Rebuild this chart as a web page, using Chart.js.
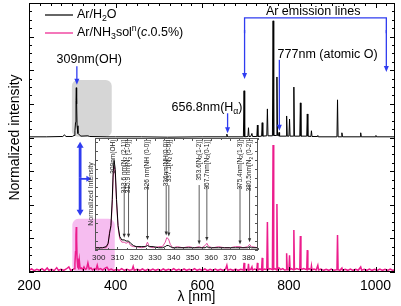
<!DOCTYPE html>
<html>
<head>
<meta charset="utf-8">
<script src="https://cdn.jsdelivr.net/npm/chart.js@4.4.0/dist/chart.umd.min.js"></script>
<style>
  html, body { margin: 0; padding: 0; background: #fff; }
  #wrap { position: relative; width: 401px; height: 306px; }
  #main { position: absolute; left: 0; top: 0; }
  #inset { position: absolute; left: 80px; top: 134px; }
</style>
</head>
<body>
<div id="wrap">
  <canvas id="main" width="401" height="306"></canvas>
  <canvas id="inset" width="182" height="134"></canvas>
</div>
<script>
// ---- data ----
const seriesNames = ["Ar/H\u2082O", "Ar/NH\u2083sol\u207F(c.0.5%)"];

// Ar/H2O spectrum (heights above its own baseline)
const topWl = [200, 240, 278, 282, 285, 300, 304, 306, 307.5, 308.5, 309.2, 310, 311, 313, 316, 320, 336, 340, 380, 400, 460, 520, 600,
  655, 656.8, 658.5, 695, 696.5, 698, 705.5, 706.7, 708, 712, 714.7, 716, 726, 727.3, 728.5, 737, 738.4, 739.8,
  749, 750.4, 751.8, 762, 763.5, 765, 771, 772.4, 773.8, 776, 777.2, 778.5, 793.5, 794.8, 796.2, 800.2, 801.5, 802.8,
  810.2, 811.5, 812.8, 825.2, 826.5, 827.8, 841.2, 842.5, 843.8, 850.8, 852.1, 853.4, 866, 866.8, 868,
  911, 912.3, 913.6, 921, 922.4, 923.8, 964.5, 965.8, 967, 1000, 1001, 1002, 1045];
const topVal = [0.02, 0.02, 0.03, 0.08, 0.03, 0.03, 0.06, 0.2, 0.45, 1.1, 1.48, 1.0, 0.35, 0.12, 0.08, 0.04, 0.05, 0.03, 0.02, 0.02, 0.02, 0.01, 0.02,
  0.02, 0.1, 0.02, 0.02, 1.39, 0.02, 0.03, 0.29, 0.03, 0.03, 0.12, 0.03, 0.03, 0.37, 0.03, 0.04, 0.44, 0.04,
  0.05, 0.85, 0.05, 0.05, 3.47, 0.06, 0.06, 1.8, 0.06, 0.05, 0.15, 0.04, 0.04, 0.64, 0.04, 0.04, 0.55, 0.04,
  0.04, 1.5, 0.04, 0.04, 1.03, 0.04, 0.04, 0.7, 0.04, 0.03, 0.2, 0.03, 0.03, 0.06, 0.02,
  0.02, 1.12, 0.02, 0.02, 0.14, 0.02, 0.02, 0.14, 0.02, 0.02, 0.06, 0.02, 0.02];

// Ar/NH3 spectrum
const botWl = [200, 206, 212, 218, 224, 230, 236, 242, 246, 252, 258, 264, 268, 274, 280, 286, 292, 296, 301, 304,
  306, 307.5, 308.5, 309.2, 310, 311, 312.5, 314, 316, 318, 321, 324, 327, 330, 333, 336, 339, 343, 347, 351, 355,
  357.5, 360, 365, 370, 375, 380, 384, 390, 396, 402, 408, 414, 420, 426, 432, 438, 440.5, 443, 450, 456, 462, 468,
  474, 480, 486, 492, 498, 504, 510, 516, 522, 528, 534, 540, 546, 552, 558, 564, 570, 576, 582, 588, 594, 600, 606,
  612, 618, 624, 630, 636, 642, 648, 654, 656.8, 659, 665, 671, 677, 683, 689, 695, 696.5, 698, 702, 705.5, 706.7,
  708, 712, 714.7, 716, 721, 726, 727.3, 728.5, 733, 737, 738.4, 739.8, 744, 749, 750.4, 751.8, 756, 762, 763.5,
  765, 768, 771, 772.4, 773.8, 777.2, 781, 786, 790, 793.5, 794.8, 796.2, 800.2, 801.5, 802.8, 806, 810.2, 811.5,
  812.8, 818, 825.2, 826.5, 827.8, 834, 841.2, 842.5, 843.8, 847, 850.8, 852.1, 853.4, 858, 863, 866.8, 868.5, 874,
  880, 886, 892, 898, 904, 911, 912.3, 913.6, 918, 922.4, 924, 930, 936, 942, 948, 954, 960, 965.8, 968, 974, 980,
  986, 992, 998, 1004, 1010, 1016, 1022, 1028, 1034, 1040, 1045];
const botVal = [0.05, 0.09, 0.04, 0.08, 0.05, 0.1, 0.04, 0.12, 0.05, 0.08, 0.04, 0.13, 0.05, 0.08, 0.05, 0.09, 0.15, 0.05, 0.07, 0.1,
  0.25, 0.6, 1.1, 1.34, 0.95, 0.4, 0.15, 0.12, 0.36, 0.1, 0.12, 0.07, 0.15, 0.08, 0.1, 0.27, 0.09, 0.12, 0.06, 0.1, 0.08,
  0.2, 0.07, 0.1, 0.06, 0.11, 0.14, 0.06, 0.09, 0.05, 0.08, 0.05, 0.1, 0.05, 0.08, 0.05, 0.07, 0.17, 0.05, 0.08, 0.05, 0.09, 0.04,
  0.08, 0.05, 0.09, 0.05, 0.08, 0.04, 0.09, 0.05, 0.08, 0.05, 0.1, 0.05, 0.08, 0.04, 0.09, 0.05, 0.08, 0.05, 0.1, 0.05, 0.08, 0.05, 0.09,
  0.04, 0.08, 0.05, 0.09, 0.05, 0.08, 0.05, 0.09, 0.2, 0.05, 0.08, 0.05, 0.09, 0.05, 0.08, 0.06, 0.27, 0.06, 0.08, 0.06, 0.24,
  0.06, 0.08, 0.15, 0.06, 0.09, 0.06, 0.27, 0.06, 0.09, 0.06, 0.42, 0.06, 0.09, 0.07, 1.49, 0.07, 0.1, 0.07, 3.78,
  0.08, 0.1, 0.07, 2.02, 0.07, 0.12, 0.07, 0.1, 0.06, 0.07, 0.56, 0.07, 0.07, 0.5, 0.07, 0.1, 0.07, 1.25,
  0.07, 0.1, 0.07, 1.07, 0.07, 0.1, 0.07, 0.65, 0.07, 0.1, 0.06, 0.18, 0.06, 0.09, 0.06, 0.2, 0.06, 0.09,
  0.05, 0.08, 0.05, 0.09, 0.05, 0.07, 1.1, 0.07, 0.05, 0.12, 0.05, 0.08, 0.05, 0.09, 0.05, 0.08, 0.05, 0.15, 0.05, 0.08, 0.05,
  0.09, 0.05, 0.08, 0.05, 0.09, 0.05, 0.08, 0.05, 0.09, 0.05, 0.07];

// inset: 300-385 nm zoom, normalized
const insetWl = [298, 302, 304, 305, 305.8, 306.5, 307.2, 307.7, 308.2, 308.8, 309.5, 310.3, 311.2, 312.3, 313.6, 314.6, 315.9, 317, 318.5,
  320, 323, 325, 326, 327, 329, 332, 334, 335.5, 336.3, 337.2, 338.2, 339.5, 342, 345, 348, 351, 353.6, 355, 356.8,
  357.7, 358.7, 361, 364, 367, 370, 373, 375.4, 377, 379.5, 380.5, 381.5, 385];
const insetH2O = [0.02, 0.02, 0.03, 0.06, 0.15, 0.22, 0.45, 0.7, 0.8, 0.72, 0.45, 0.22, 0.12, 0.09, 0.09, 0.08, 0.08, 0.06, 0.04,
  0.03, 0.03, 0.03, 0.04, 0.03, 0.03, 0.02, 0.02, 0.03, 0.04, 0.04, 0.03, 0.02, 0.02, 0.02, 0.02, 0.02, 0.02, 0.02, 0.02,
  0.03, 0.02, 0.02, 0.02, 0.02, 0.02, 0.02, 0.02, 0.02, 0.02, 0.03, 0.02, 0.02];
const insetNH3 = [0.02, 0.02, 0.02, 0.05, 0.17, 0.2, 0.4, 0.65, 0.75, 0.68, 0.42, 0.2, 0.1, 0.07, 0.07, 0.06, 0.07, 0.04, 0.03,
  0.03, 0.02, 0.03, 0.07, 0.03, 0.02, 0.03, 0.03, 0.07, 0.11, 0.1, 0.05, 0.02, 0.03, 0.02, 0.03, 0.02, 0.03, 0.02, 0.04,
  0.06, 0.03, 0.02, 0.03, 0.02, 0.02, 0.03, 0.03, 0.02, 0.03, 0.05, 0.03, 0.02];

const mainXTicks = [200, 400, 600, 800, 1000];
const insetXTicks = [300, 310, 320, 330, 340, 350, 360, 370, 380];

const TOP_OFFSET = 4; // stacking offset of the Ar/H2O trace
const BLUE = "#2f3cf0";
const PINK = "#ec1c8c";
const FAM = "'Liberation Sans', Arial, sans-serif";
const NARROW = "'Liberation Sans Narrow', 'Liberation Sans', Arial, sans-serif";

Chart.defaults.font.family = FAM;
Chart.defaults.color = "#000";

// ---- drawing helpers ----
function rich(ctx, x, y, parts, size, align, fam) {
  fam = fam || FAM;
  const fontFor = (k) => (k === "i" ? "italic " : "") + (k === "sub" || k === "sup" ? size * 0.7 : size) + "px " + fam;
  let w = 0;
  parts.forEach(([t, k]) => { ctx.font = fontFor(k); w += ctx.measureText(t).width; });
  let cx = align === "right" ? x - w : align === "center" ? x - w / 2 : x;
  ctx.textAlign = "left";
  ctx.textBaseline = "middle";
  parts.forEach(([t, k]) => {
    ctx.font = fontFor(k);
    const dy = k === "sub" ? size * 0.3 : k === "sup" ? -size * 0.35 : 0;
    ctx.fillText(t, cx, y + dy);
    cx += ctx.measureText(t).width;
  });
}

function arrow(ctx, x1, y1, x2, y2, w, hl, hw) {
  const a = Math.atan2(y2 - y1, x2 - x1);
  const c = Math.cos(a), s = Math.sin(a);
  ctx.lineWidth = w;
  ctx.beginPath();
  ctx.moveTo(x1, y1);
  ctx.lineTo(x2 - c * hl * 0.7, y2 - s * hl * 0.7);
  ctx.stroke();
  ctx.beginPath();
  ctx.moveTo(x2, y2);
  ctx.lineTo(x2 - hl * c + hw * s, y2 - hl * s - hw * c);
  ctx.lineTo(x2 - hl * c - hw * s, y2 - hl * s + hw * c);
  ctx.closePath();
  ctx.fill();
}

function roundRect(ctx, x, y, w, h, r) {
  ctx.beginPath();
  ctx.moveTo(x + r, y);
  ctx.arcTo(x + w, y, x + w, y + h, r);
  ctx.arcTo(x + w, y + h, x, y + h, r);
  ctx.arcTo(x, y + h, x, y, r);
  ctx.arcTo(x, y, x + w, y, r);
  ctx.closePath();
}

// box frame with inward ticks on all four sides
function frameTicks(o) {
  return {
    id: "frame",
    afterDraw(chart) {
      const { ctx, chartArea: a, scales: { x, y } } = chart;
      ctx.save();
      ctx.strokeStyle = o.color;
      ctx.lineWidth = 1;
      ctx.strokeRect(a.left + 0.5, a.top + 0.5, a.right - a.left - 1, a.bottom - a.top - 1);
      ctx.beginPath();
      for (let i = 0; ; i++) {
        const v = o.x0 + i * o.xMinor;
        if (v > x.max) break;
        const px = Math.round(x.getPixelForValue(v)) + 0.5;
        const len = i % o.xEvery === 0 ? o.major : o.minor;
        ctx.moveTo(px, a.bottom); ctx.lineTo(px, a.bottom - len);
        ctx.moveTo(px, a.top); ctx.lineTo(px, a.top + len);
      }
      for (let i = 0; ; i++) {
        const v = y.min + i * o.yMinor;
        if (v > y.max + 1e-9) break;
        const py = Math.round(y.getPixelForValue(v)) + 0.5;
        const len = i % o.yEvery === 0 ? o.major : o.minor;
        ctx.moveTo(a.left, py); ctx.lineTo(a.left + len, py);
        ctx.moveTo(a.right, py); ctx.lineTo(a.right - len, py);
      }
      ctx.stroke();
      ctx.restore();
    }
  };
}

// ---- main chart annotations ----
const mainNotes = {
  id: "mainNotes",
  beforeDatasetsDraw(chart) {
    const { ctx, scales: { x, y } } = chart;
    ctx.save();
    // shaded boxes round the OH band
    ctx.fillStyle = "#d6d6d6";
    roundRect(ctx, x.getPixelForValue(299), y.getPixelForValue(5.71),
      x.getPixelForValue(391) - x.getPixelForValue(299), y.getPixelForValue(4.02) - y.getPixelForValue(5.71), 6);
    ctx.fill();
    ctx.fillStyle = "#f6bdf0";
    roundRect(ctx, x.getPixelForValue(300), y.getPixelForValue(1.58),
      x.getPixelForValue(398) - x.getPixelForValue(300), y.getPixelForValue(0) - y.getPixelForValue(1.58), 6);
    ctx.fill();
    ctx.restore();
  },
  afterDatasetsDraw(chart) {
    const { ctx, chartArea: a, scales: { x, y } } = chart;
    const X = (v) => x.getPixelForValue(v), Y = (v) => y.getPixelForValue(v);
    ctx.save();
    ctx.strokeStyle = BLUE;
    ctx.fillStyle = BLUE;

    // 309 nm OH
    arrow(ctx, X(310.5), Y(6.12), X(310.5), Y(5.57), 1.3, 6, 2.5);
    // 656.8 nm H alpha
    arrow(ctx, X(658.5), Y(4.72), X(658.5), Y(4.13), 1.3, 6, 2.5);
    // 777 nm O
    arrow(ctx, X(778), Y(6.31), X(778), Y(4.2), 1.3, 6, 2.5);

    // Ar emission lines bracket
    ctx.lineWidth = 1.3;
    ctx.beginPath();
    ctx.moveTo(X(697.7), Y(7.1));
    ctx.lineTo(X(697.7), Y(7.56));
    ctx.lineTo(X(1025), Y(7.56));
    ctx.lineTo(X(1025), Y(7.1));
    ctx.stroke();
    arrow(ctx, X(697.7), Y(7.2), X(697.7), Y(5.74), 1.3, 6, 2.5);
    arrow(ctx, X(1025), Y(7.2), X(1025), Y(5.95), 1.3, 6, 2.5);

    // link from the two OH bands to the inset
    arrow(ctx, X(318), Y(2.8), X(318), Y(3.87), 2.8, 6, 3.5);
    arrow(ctx, X(318), Y(2.8), X(318), Y(1.67), 2.8, 6, 3.5);
    arrow(ctx, X(318), Y(2.77), X(344), Y(2.77), 1.8, 5, 3);

    // labels
    ctx.fillStyle = "#000";
    rich(ctx, X(339), Y(6.31), [["309nm(OH)", ""]], 12.5, "center");
    rich(ctx, X(693), Y(4.88), [["656.8nm(H", ""], ["\u03B1", "sub"], [")", ""]], 12.5, "right");
    rich(ctx, X(774), Y(6.47), [["777nm (atomic O)", ""]], 12.5, "left");
    rich(ctx, X(856), Y(7.74), [["Ar emission lines", ""]], 12.5, "center");

    // legend
    const ds = chart.data.datasets;
    const rows = [
      [["Ar/H", ""], ["2", "sub"], ["O", ""]],
      [["Ar/NH", ""], ["3", "sub"], ["sol", ""], ["n", "sup"], ["(", ""], ["c", "i"], [".0.5%)", ""]]
    ];
    [1, 0].forEach((di, r) => {
      const yy = a.top + 12 + r * 18;
      ctx.strokeStyle = ds[di].borderColor;
      ctx.lineWidth = 1.2;
      ctx.beginPath();
      ctx.moveTo(a.left + 16, yy);
      ctx.lineTo(a.left + 44, yy);
      ctx.stroke();
      ctx.fillStyle = "#000";
      rich(ctx, a.left + 48, yy, rows[r], 12.5, "left");
    });
    ctx.restore();
  }
};

const toPts = (xs, ys, off) => xs.map((w, i) => ({ x: w, y: ys[i] + off }));

new Chart(document.getElementById("main"), {
  type: "line",
  data: {
    datasets: [
      { label: seriesNames[1], data: toPts(botWl, botVal, 0), borderColor: PINK, borderWidth: 1.5 },
      { label: seriesNames[0], data: toPts(topWl, topVal, TOP_OFFSET), borderColor: "#000", borderWidth: 1 }
    ]
  },
  options: {
    responsive: false,
    devicePixelRatio: 1,
    animation: false,
    parsing: false,
    elements: { point: { radius: 0 }, line: { tension: 0 } },
    layout: { padding: { left: 0, top: 3, right: 6, bottom: 0 } },
    plugins: { legend: { display: false }, tooltip: { enabled: false } },
    scales: {
      x: {
        type: "linear", min: 200, max: 1045,
        grid: { display: false, drawTicks: false },
        border: { display: false },
        afterBuildTicks: (s) => { s.ticks = mainXTicks.map((v) => ({ value: v })); },
        afterFit: (s) => { s.height = 34; },
        ticks: { font: { size: 14 }, padding: 6, callback: (v) => String(v) },
        // trailing spaces nudge the centred title a bit left, as in the figure
        title: { display: true, text: "\u03BB [nm]        ", font: { size: 14 }, padding: { top: 0, bottom: 0 } }
      },
      y: {
        min: 0, max: 8,
        grid: { display: false, drawTicks: false },
        border: { display: false },
        afterFit: (s) => { s.width = 29; },
        ticks: { display: false },
        title: { display: true, text: "Normalized intensity", font: { size: 14 }, padding: { top: 7, bottom: 0 } }
      }
    }
  },
  plugins: [mainNotes, frameTicks({ color: "#000", x0: 200, xMinor: 25, xEvery: 8, yMinor: 0.25, yEvery: 4, major: 5, minor: 3 })]
});

// ---- inset ----
const insetLabels = [
  { nm: 307.7, parts: [["309nm(OH)", ""]] },
  { nm: 313.6, to: 0.11, parts: [["313.6 nm[N", ""], ["2", "sub"], [" (2-1)]", ""]] },
  { nm: 315.9, to: 0.11, parts: [["315.9 nm[N", ""], ["2", "sub"], [" (1-0)]", ""]] },
  { nm: 326, to: 0.09, parts: [["326 nm[NH (0-0)]", ""]] },
  { nm: 336, to: 0.13, parts: [["336nm[NH(0-0)]", ""]] },
  { nm: 337.4, to: 0.12, parts: [["337.1[N", ""], ["2", "sub"], [" (0-0)]", ""]] },
  { nm: 353.6, to: 0.05, parts: [["353.6[N", ""], ["2", "sub"], ["(1-2)]", ""]] },
  { nm: 357.7, to: 0.08, parts: [["357.7nm[N", ""], ["2", "sub"], ["(0-1)]", ""]] },
  { nm: 375.4, to: 0.05, parts: [["375.4nm[N", ""], ["2", "sub"], ["(1-3)]", ""]] },
  { nm: 380.5, to: 0.07, parts: [["380.5nm[N", ""], ["2", "sub"], [" (0-2)]", ""]] }
];

const insetNotes = {
  id: "insetNotes",
  afterDatasetsDraw(chart) {
    const { ctx, scales: { x, y } } = chart;
    ctx.save();
    insetLabels.forEach((l) => {
      const px = x.getPixelForValue(l.nm);
      ctx.save();
      ctx.translate(px, y.getPixelForValue(0.985));
      ctx.rotate(-Math.PI / 2);
      ctx.fillStyle = "#222";
      rich(ctx, 0, 0, l.parts, 6.5, "right", NARROW);
      ctx.restore();
      if (l.to) {
        ctx.strokeStyle = "#333";
        ctx.fillStyle = "#333";
        arrow(ctx, px, y.getPixelForValue(0.58), px, y.getPixelForValue(l.to), 0.8, 4, 1.6);
      }
    });
    ctx.restore();
  }
};

new Chart(document.getElementById("inset"), {
  type: "line",
  data: {
    datasets: [
      { label: seriesNames[0], data: toPts(insetWl, insetH2O, 0), borderColor: "#000", borderWidth: 1 },
      { label: seriesNames[1], data: toPts(insetWl, insetNH3, 0), borderColor: "#e0509f", borderWidth: 1 }
    ]
  },
  options: {
    responsive: false,
    devicePixelRatio: 1,
    animation: false,
    parsing: false,
    elements: { point: { radius: 0 }, line: { tension: 0 } },
    layout: { padding: { left: 0, top: 4, right: 4, bottom: 0 } },
    plugins: { legend: { display: false }, tooltip: { enabled: false } },
    scales: {
      x: {
        type: "linear", min: 298, max: 385,
        grid: { display: false, drawTicks: false },
        border: { display: false },
        afterBuildTicks: (s) => { s.ticks = insetXTicks.map((v) => ({ value: v })); },
        afterFit: (s) => { s.height = 18; },
        ticks: { font: { size: 8 }, color: "#222", padding: 3, callback: (v) => String(v) }
      },
      y: {
        min: 0, max: 1,
        grid: { display: false, drawTicks: false },
        border: { display: false },
        afterFit: (s) => { s.width = 15; },
        ticks: { display: false },
        title: { display: true, text: "Normalized Intensity", font: { size: 7 }, color: "#333", padding: { top: 7, bottom: 0 } }
      }
    }
  },
  plugins: [insetNotes, frameTicks({ color: "#555", x0: 300, xMinor: 5, xEvery: 2, yMinor: 0.08, yEvery: 1, major: 3, minor: 2 })]
});
</script>
</body>
</html>
